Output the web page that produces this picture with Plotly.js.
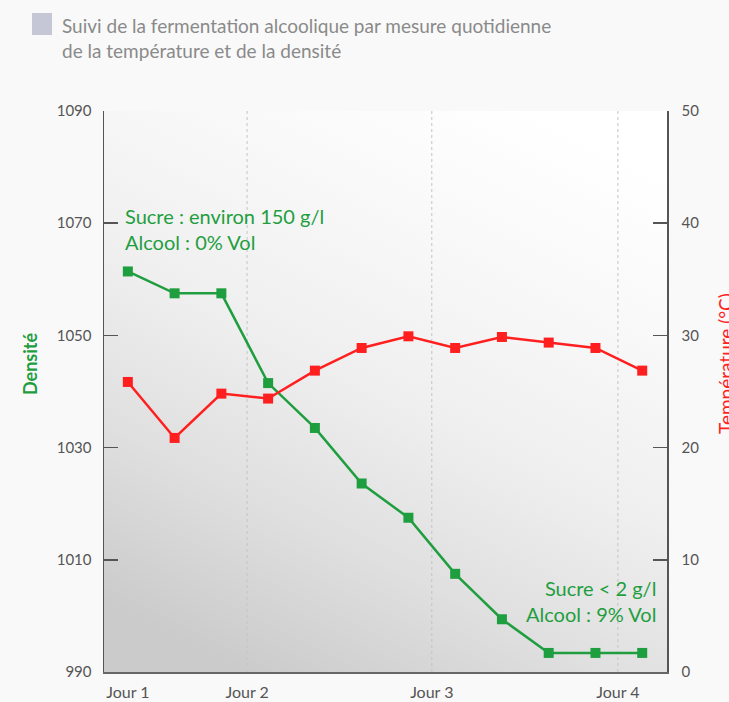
<!DOCTYPE html>
<html>
<head>
<meta charset="utf-8">
<script src="https://cdn.plot.ly/plotly-3.0.1.min.js"></script>
<style>
  html, body { margin: 0; padding: 0; background: #f9f9f9; }
  #chart { width: 729px; height: 702px; }
</style>
</head>
<body>
<div id="chart"></div>
<script>
// ---- data ----
const measureIndex = [0, 1, 2, 3, 4, 5, 6, 7, 8, 9, 10, 11];
const densite = [1061.4, 1057.5, 1057.5, 1041.5, 1033.5, 1023.6, 1017.5, 1007.5, 999.4, 993.4, 993.4, 993.4];
const temperature = [25.85, 20.86, 24.81, 24.37, 26.86, 28.88, 29.92, 28.88, 29.86, 29.36, 28.88, 26.86];
const dayLabels = ['Jour 1', 'Jour 2', 'Jour 3', 'Jour 4'];
const dayPositions = [0, 2.55, 6.5, 10.48];
const gridPositions = [2.55, 6.5, 10.48];
const densiteTicks = [990, 1010, 1030, 1050, 1070, 1090];
const tempTicks = [0, 10, 20, 30, 40, 50];

const GREEN = '#1f9e3f';
const RED = '#ff1f1f';
const FONT = 'Lato, "Open Sans", sans-serif';

const bgSvg = "<svg xmlns='http://www.w3.org/2000/svg' width='563' height='561' viewBox='0 0 563 561' preserveAspectRatio='none'>" +
  "<defs><linearGradient id='g' x1='0.75' y1='0' x2='0.25' y2='1' gradientUnits='objectBoundingBox'>" +
  "<stop offset='0' stop-color='#ffffff'/><stop offset='0.25' stop-color='#f8f8f8'/>" +
  "<stop offset='0.5' stop-color='#efefef'/><stop offset='0.75' stop-color='#dfdfdf'/>" +
  "<stop offset='1' stop-color='#cbcbcb'/>" +
  "</linearGradient></defs><rect x='0' y='0' width='563' height='561' fill='url(#g)'/></svg>";

const traces = [
  {
    x: measureIndex, y: densite, yaxis: 'y', type: 'scatter', mode: 'lines+markers',
    name: 'Densité',
    line: { color: GREEN, width: 2.5 },
    marker: { symbol: 'square', size: 10, color: GREEN },
    hoverinfo: 'y'
  },
  {
    x: measureIndex, y: temperature, yaxis: 'y2', type: 'scatter', mode: 'lines+markers',
    name: 'Température (°C)',
    line: { color: RED, width: 2.5 },
    marker: { symbol: 'square', size: 10, color: RED },
    hoverinfo: 'y'
  }
];

const layout = {
  width: 729, height: 702,
  margin: { l: 104, r: 62, t: 111, b: 30 },
  paper_bgcolor: '#f9f9f9',
  plot_bgcolor: 'rgba(0,0,0,0)',
  showlegend: false,
  font: { family: FONT, color: '#555555', size: 15 },
  title: {
    text: 'Suivi de la fermentation alcoolique par mesure quotidienne<br>de la température et de la densité',
    font: { family: FONT, size: 19, color: '#8a8a8a' },
    xref: 'container', yref: 'container',
    x: 62 / 729, xanchor: 'left',
    y: 1 - 33 / 702, yanchor: 'top'
  },
  xaxis: {
    range: [-0.51, 11.53],
    tickmode: 'array', tickvals: dayPositions, ticktext: dayLabels,
    showgrid: false, zeroline: false,
    showline: true, linecolor: '#666666', linewidth: 2,
    ticks: '', ticklabelstandoff: 5,
    tickfont: { family: FONT, size: 16, color: '#555555' },
    fixedrange: true
  },
  yaxis: {
    range: [990, 1090],
    tickmode: 'array', tickvals: densiteTicks,
    showgrid: false, zeroline: false,
    showline: true, linecolor: '#555555', linewidth: 1.5,
    ticks: 'inside', ticklen: 14, tickwidth: 1.5, tickcolor: '#555555',
    ticklabelstandoff: 8,
    tickfont: { family: FONT, size: 15, color: '#555555' },
    fixedrange: true
  },
  yaxis2: {
    range: [0, 50],
    overlaying: 'y', side: 'right',
    tickmode: 'array', tickvals: tempTicks,
    showgrid: false, zeroline: false,
    showline: true, linecolor: '#555555', linewidth: 1.5,
    ticks: 'inside', ticklen: 14, tickwidth: 1.5, tickcolor: '#555555',
    ticklabelstandoff: 10,
    tickfont: { family: FONT, size: 15, color: '#555555' },
    fixedrange: true
  },
  images: [{
    source: 'data:image/svg+xml;charset=utf-8,' + encodeURIComponent(bgSvg),
    xref: 'paper', yref: 'paper', x: 0, y: 1, sizex: 1, sizey: 1,
    xanchor: 'left', yanchor: 'top', sizing: 'stretch', layer: 'below'
  }],
  shapes: [
    {
      type: 'rect', xref: 'paper', yref: 'paper',
      x0: (32 - 104) / 563, x1: (52 - 104) / 563,
      y0: (671 - 34) / 561, y1: (671 - 12) / 561,
      fillcolor: '#c6c7d6', line: { width: 0 }, layer: 'above'
    }
  ].concat(gridPositions.map(function (g) {
    return {
      type: 'line', xref: 'x', yref: 'y', x0: g, x1: g, y0: 990, y1: 1090,
      line: { color: '#c4c4c4', width: 1, dash: 'dot' }, layer: 'below'
    };
  })),
  annotations: [
    {
      text: 'Sucre : environ 150 g/l<br>Alcool : 0% Vol',
      xref: 'x', yref: 'y', x: -0.1, y: 1068.9,
      xanchor: 'left', yanchor: 'middle', align: 'left', showarrow: false,
      font: { family: FONT, size: 20, color: GREEN }
    },
    {
      text: 'Sucre &lt; 2 g/l<br>Alcool : 9% Vol',
      xref: 'x', yref: 'y', x: 11.33, y: 1002.6,
      xanchor: 'right', yanchor: 'middle', align: 'right', showarrow: false,
      font: { family: FONT, size: 20, color: GREEN }
    },
    {
      text: '<b>Densité</b>',
      xref: 'paper', yref: 'paper', x: (30 - 104) / 563, y: (671 - 363) / 561,
      xanchor: 'center', yanchor: 'middle', textangle: -90, showarrow: false,
      font: { family: FONT, size: 18, color: GREEN }
    },
    {
      text: 'Température (°C)',
      xref: 'paper', yref: 'paper', x: (725 - 104) / 563, y: (671 - 363) / 561,
      xanchor: 'center', yanchor: 'middle', textangle: -90, showarrow: false,
      font: { family: FONT, size: 19, color: RED }
    }
  ]
};

Plotly.newPlot('chart', traces, layout, { displayModeBar: false, staticPlot: true });
</script>
</body>
</html>
